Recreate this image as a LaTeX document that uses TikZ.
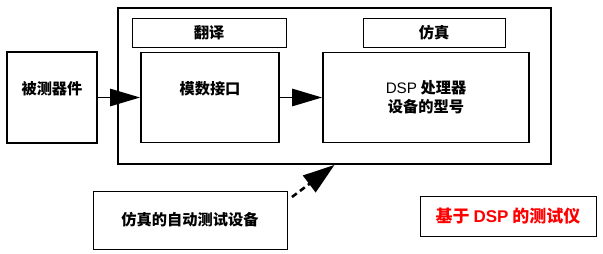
\documentclass[tikz,border=0pt]{standalone}
\usepackage{fontspec}
\setmainfont{Noto Sans CJK SC}
\newfontfamily\latinfont{Liberation Sans}
\usetikzlibrary{arrows.meta}

\begin{document}
\begin{tikzpicture}[x=0.03cm, y=-0.03cm, font=\fontsize{13}{16}\selectfont\bfseries,
  thinbox/.style={draw, line width=0.8pt, inner sep=0pt},
  thickbox/.style={draw, line width=1.6pt, inner sep=0pt},
  bigtip/.style={-{Triangle[length=0.9cm, width=0.52cm]}, line width=1.6pt}]

\useasboundingbox (0,0) rectangle (603,254);

% Outer frame of the tester
\node[thickbox, minimum width=12.99cm, minimum height=4.68cm] (tester) at (334.5,86) {};

% Heading boxes (name/x/width/label)
\foreach \name/\x/\w/\lbl in {trans/209/4.62/翻译, sim/434/4.26/仿真}
{
  \node[thinbox, minimum width=\w cm, minimum height=0.87cm] (\name) at (\x,33) {\lbl};
}

% Device under test
\node[thickbox, minimum width=2.7cm, minimum height=2.73cm] (dut) at (52,97.5)
  {\raisebox{0.56cm}{被测器件}};

% A/D interface and DSP
\node[thickbox, minimum width=4.14cm, minimum height=2.7cm] (adc) at (210,97.5)
  {\raisebox{0.6cm}{模数接口}};
\node[thickbox, minimum width=6.18cm, minimum height=2.7cm, align=center] (dsp) at (426,97.5)
  {{\mdseries\latinfont DSP} 处理器\\设备的型号};

% Emulating test equipment
\node[thinbox, minimum width=5.82cm, minimum height=1.74cm] (ate) at (190,220)
  {\raisebox{-0.3cm}{仿真的自动测试设备}};
\coordinate (ate-out) at (292,197);

% Caption
\node[thinbox, minimum width=5.28cm, minimum height=1.2cm, text=red,
  font=\fontsize{14.5}{16}\selectfont\bfseries] (title) at (508,216)
  {\raisebox{-0.3cm}{基于 {\latinfont DSP} 的测试仪}};

% Signal flow
\draw[bigtip] (dut) -- (adc);
\draw[bigtip] (adc) -- (dsp);
\draw[bigtip, line width=2.2pt, -{Triangle[length=0.95cm, width=0.62cm]},
  dash pattern=on 0.18cm off 0.12cm] (ate-out) -- (tester.south);

\end{tikzpicture}
\end{document}
